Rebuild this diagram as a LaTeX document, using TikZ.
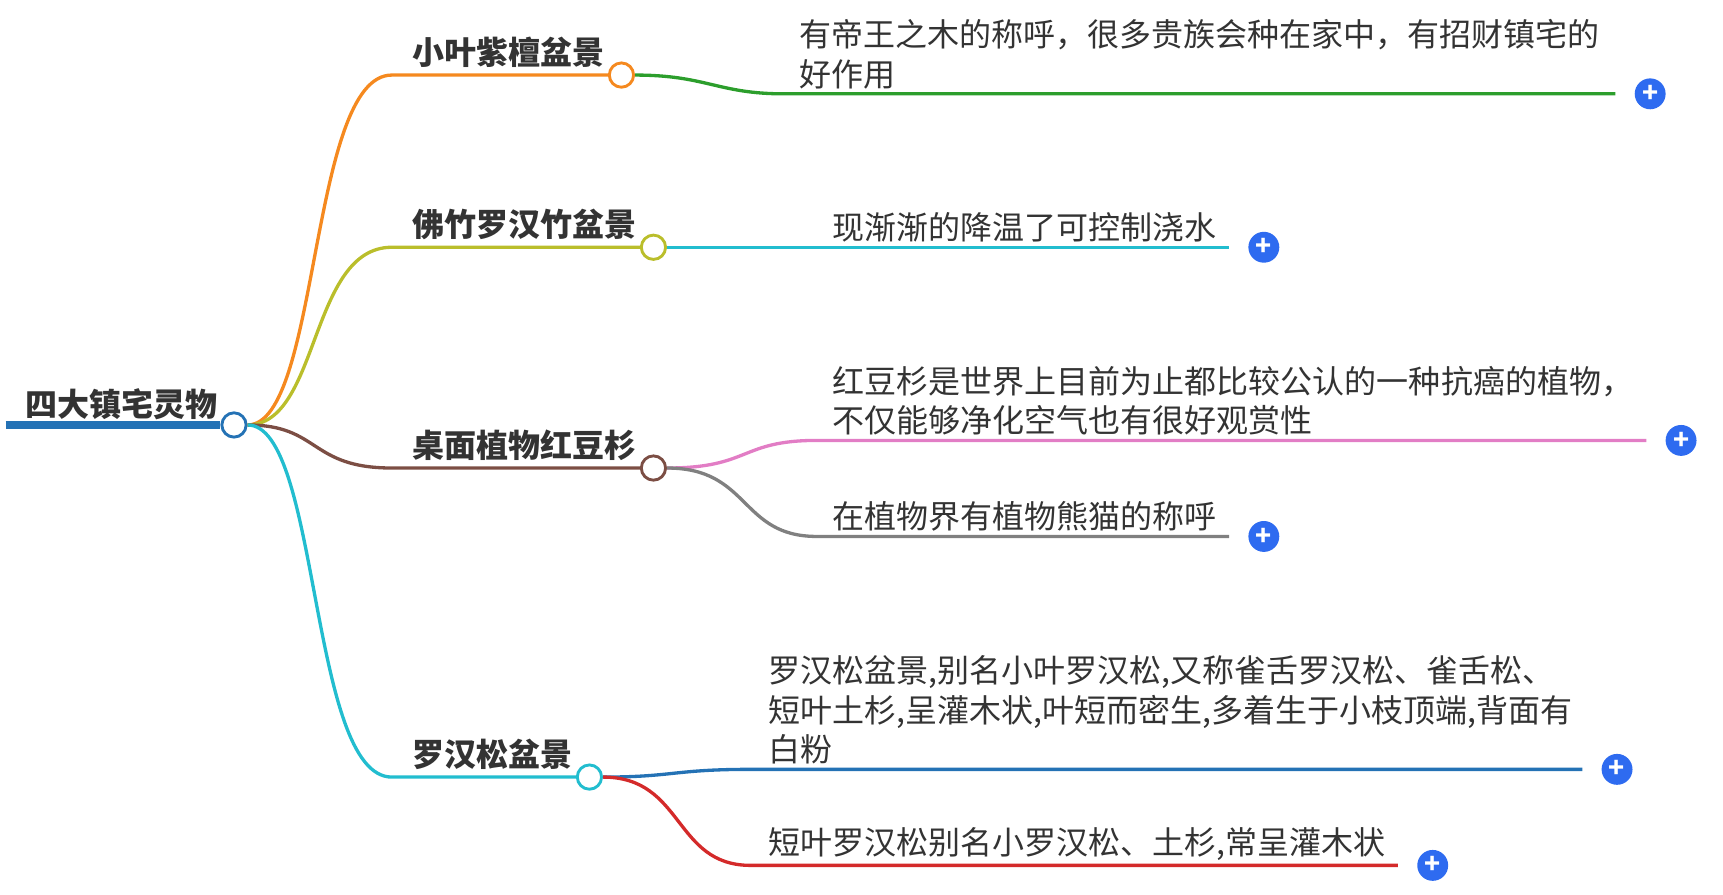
\documentclass[tikz,border=0pt]{standalone}
\usepackage{fontspec}
\setmainfont{Noto Sans CJK SC}
\newfontfamily\cjkbold[BoldFont={Noto Sans CJK SC Bold}]{Noto Sans CJK SC}
\usetikzlibrary{positioning}
\definecolor{cRoot}{HTML}{2472B5}
\definecolor{cOrange}{HTML}{F5891F}
\definecolor{cOlive}{HTML}{BABE2B}
\definecolor{cBrown}{HTML}{7C4E44}
\definecolor{cCyan}{HTML}{22BDCF}
\definecolor{cGreen}{HTML}{2C9E2C}
\definecolor{cPink}{HTML}{E27DC5}
\definecolor{cGray}{HTML}{808080}
\definecolor{cRed}{HTML}{D42A2A}
\definecolor{cPlus}{HTML}{2E6BF0}
\definecolor{cText}{HTML}{333333}
\begin{document}
\begin{tikzpicture}[x=0.5pt,y=-0.5pt,line width=1.5pt]
        \tikzstyle{knob}=[circle,draw,fill=white,line width=1.3pt,minimum size=11pt,inner sep=0pt]
        \tikzstyle{plus}=[circle,fill=cPlus,text=white,minimum size=14pt,inner sep=0pt,font=\bfseries\large]
        \tikzstyle{topic}=[font=\fontsize{14.5}{17}\selectfont\bfseries,text=cText,inner sep=0pt,anchor=south west]
        \tikzstyle{leaf}=[font=\fontsize{14.5}{18}\selectfont,text=cText,inner sep=0pt,anchor=south west,align=left]
        \useasboundingbox (0,0) rectangle (1561,810);

         % root
         \node [topic] (root) at (22,382) {四大镇宅灵物};
         \coordinate (r0) at (5,385);
         \node [knob,draw=cRoot] (rk) at (212,385) {};
         \draw [cRoot,line width=4pt] (r0) -- (rk.west);

         % topics
         \node [knob,draw=cOrange] (k1) at (563,68) {};
         \node [knob,draw=cOlive] (k2) at (592,224) {};
         \node [knob,draw=cBrown] (k3) at (592,424) {};
         \node [knob,draw=cCyan] (k4) at (534,704) {};
         \node [topic] (t1) at (372,63) {小叶紫檀盆景};
         \node [topic] (t2) at (372,219) {佛竹罗汉竹盆景};
         \node [topic] (t3) at (372,419) {桌面植物红豆杉};
         \node [topic] (t4) at (372,699) {罗汉松盆景};
         \foreach \k/\c in {k1/cOrange,k2/cOlive,k3/cBrown,k4/cCyan}
           \draw [\c] (rk.east) .. controls (290,385) and (280,0 |- \k) .. (355,0 |- \k) -- (\k.west);

         % leaves
         \node [leaf] (l1) at (723,82) {有帝王之木的称呼，很多贵族会种在家中，有招财镇宅的\\好作用};
         \node [leaf] (l2) at (753,221) {现渐渐的降温了可控制浇水};
         \node [leaf] (l3) at (753,396) {红豆杉是世界上目前为止都比较公认的一种抗癌的植物，\\不仅能够净化空气也有很好观赏性};
         \node [leaf] (l4) at (753,483) {在植物界有植物熊猫的称呼};
         \node [leaf] (l5) at (695,694) {罗汉松盆景,别名小叶罗汉松,又称雀舌罗汉松、雀舌松、\\短叶土杉,呈灌木状,叶短而密生,多着生于小枝顶端,背面有\\白粉};
         \node [leaf] (l6) at (695,781) {短叶罗汉松别名小罗汉松、土杉,常呈灌木状};

         \node [plus] (p1) at (1495,85) {+};
         \node [plus] (p2) at (1145,224) {+};
         \node [plus] (p3) at (1523,399) {+};
         \node [plus] (p4) at (1145,486) {+};
         \node [plus] (p5) at (1465,697) {+};
         \node [plus] (p6) at (1298,784) {+};

         \draw [cGreen] (k1.east) .. controls (640,68) and (650,85) .. (710,85) -- ([xshift=-8pt]p1.west);
         \draw [cCyan] (k2.east) -- ([xshift=-8pt]p2.west);
         \draw [cPink] (k3.east) .. controls (680,424) and (670,399) .. (740,399) -- ([xshift=-8pt]p3.west);
         \draw [cGray] (k3.east) .. controls (680,424) and (670,486) .. (740,486) -- ([xshift=-8pt]p4.west);
         \draw [cRoot] (k4.east) .. controls (610,704) and (610,697) .. (680,697) -- ([xshift=-8pt]p5.west);
         \draw [cRed] (k4.east) .. controls (620,704) and (610,784) .. (680,784) -- ([xshift=-8pt]p6.west);
\end{tikzpicture}
\end{document}
